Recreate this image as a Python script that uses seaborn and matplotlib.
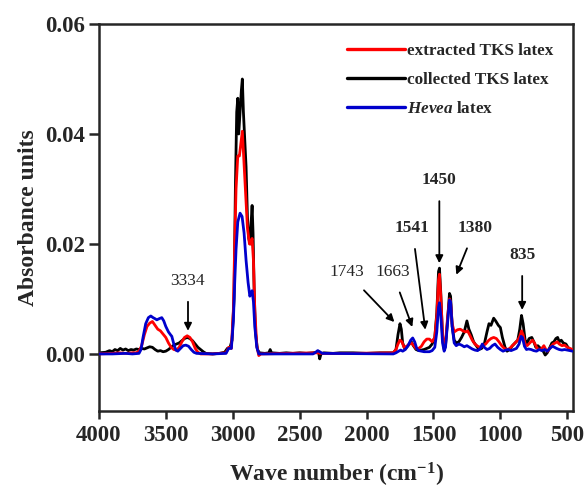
import matplotlib
matplotlib.use("Agg")
import matplotlib.pyplot as plt
import seaborn as sns
import pandas as pd

# ---- data ----
black_wn = [4000, 3950, 3920, 3900, 3880, 3860, 3840, 3820, 3800, 3780, 3760, 3740, 3720, 3700,
            3680, 3660, 3640, 3620, 3600, 3580, 3560, 3540, 3520, 3500, 3480, 3460, 3440, 3420,
            3400, 3380, 3360, 3340, 3320, 3300, 3280, 3260, 3240, 3220, 3200, 3150, 3100, 3060,
            3040, 3020, 3005, 2990, 2980, 2970, 2962, 2955, 2945, 2935, 2928, 2920, 2912, 2900,
            2890, 2880, 2870, 2862, 2855, 2848, 2840, 2830, 2815, 2800, 2760, 2730, 2720, 2710,
            2650, 2600, 2550, 2500, 2450, 2400, 2370, 2360, 2350, 2340, 2320, 2250, 2200, 2100,
            2000, 1900, 1800, 1780, 1765, 1750, 1740, 1730, 1715, 1700, 1680, 1665, 1650, 1630,
            1610, 1590, 1570, 1550, 1530, 1510, 1490, 1475, 1462, 1455, 1445, 1432, 1420, 1410,
            1395, 1380, 1372, 1360, 1345, 1330, 1310, 1290, 1270, 1250, 1235, 1218, 1200, 1180,
            1160, 1140, 1120, 1100, 1085, 1070, 1050, 1035, 1015, 1000, 985, 965, 950, 930, 910,
            890, 870, 855, 842, 830, 815, 800, 785, 765, 750, 735, 720, 700, 680, 665, 650, 630,
            615, 600, 585, 572, 560, 545, 530, 510, 495, 480, 460]
black_abs = [0.0002, 0.0003, 0.0006, 0.0004, 0.0008, 0.0006, 0.0010, 0.0007, 0.0009, 0.0006, 0.0008,
             0.0007, 0.0009, 0.0008, 0.0010, 0.0009, 0.0011, 0.0013, 0.0012, 0.0008, 0.0005, 0.0006,
             0.0004, 0.0005, 0.0008, 0.0012, 0.0016, 0.0018, 0.0020, 0.0024, 0.0028, 0.0030, 0.0028,
             0.0024, 0.0018, 0.0012, 0.0008, 0.0004, 0.0001, 0.0000, 0.0001, 0.0003, 0.0010, 0.0012,
             0.0025, 0.010, 0.030, 0.044, 0.0465, 0.040, 0.044, 0.048, 0.050, 0.044, 0.040, 0.034,
             0.025, 0.021, 0.020, 0.024, 0.027, 0.022, 0.012, 0.004, 0.0008, 0.0002, 0.0001, 0.0002,
             0.0008, 0.0002, 0.0001, 0.0002, 0.0001, 0.0002, 0.0001, 0.0002, 0.0003, 0.0005, -0.0009,
             0.0000, 0.0002, 0.0001, 0.0002, 0.0002, 0.0001, 0.0002, 0.0002, 0.0008, 0.0035, 0.0055,
             0.0045, 0.0020, 0.0010, 0.0012, 0.0018, 0.0022, 0.0015, 0.0008, 0.0006, 0.0007, 0.0008,
             0.0010, 0.0012, 0.0018, 0.0030, 0.0075, 0.0150, 0.0156, 0.0110, 0.0030, 0.0008, 0.0015,
             0.0060, 0.0110, 0.0105, 0.0050, 0.0025, 0.0020, 0.0022, 0.0030, 0.0040, 0.0060, 0.0045,
             0.0035, 0.0022, 0.0015, 0.0008, 0.0010, 0.0018, 0.0040, 0.0055, 0.0052, 0.0065, 0.0060,
             0.0052, 0.0048, 0.0030, 0.0012, 0.0005, 0.0008, 0.0015, 0.0020, 0.0025, 0.0045, 0.0070,
             0.0055, 0.0025, 0.0020, 0.0028, 0.0030, 0.0022, 0.0012, 0.0015, 0.0010, 0.0005, -0.0002,
             0.0002, 0.0012, 0.0020, 0.0022, 0.0028, 0.0030, 0.0022, 0.0025, 0.0020, 0.0018, 0.0012,
             0.0008, 0.0006]

red_wn = [4000, 3900, 3850, 3800, 3750, 3720, 3700, 3680, 3660, 3640, 3620, 3600, 3580, 3560, 3540,
          3520, 3500, 3480, 3460, 3440, 3420, 3400, 3380, 3360, 3340, 3320, 3300, 3280, 3260, 3240,
          3150, 3050, 3030, 3010, 2995, 2985, 2975, 2962, 2950, 2940, 2928, 2918, 2905, 2890, 2875,
          2865, 2855, 2845, 2835, 2820, 2805, 2790, 2600, 2360, 2350, 2100, 1800, 1780, 1765, 1750,
          1735, 1720, 1700, 1680, 1665, 1650, 1630, 1610, 1590, 1570, 1550, 1530, 1510, 1490, 1475,
          1462, 1455, 1445, 1432, 1420, 1410, 1395, 1380, 1372, 1360, 1345, 1320, 1300, 1280, 1260,
          1245, 1230, 1210, 1190, 1170, 1150, 1130, 1110, 1090, 1070, 1050, 1030, 1010, 990, 970,
          950, 930, 910, 890, 870, 855, 842, 830, 815, 800, 780, 760, 745, 725, 705, 690, 675, 660,
          645, 625, 605, 590, 575, 560, 540, 520, 500, 480, 460]
red_abs = [0.0000, 0.0001, 0.0002, 0.0001, 0.0002, 0.0002, 0.0005, 0.0015, 0.0035, 0.0050, 0.0056,
           0.0059, 0.0052, 0.0045, 0.0042, 0.0036, 0.0030, 0.0020, 0.0012, 0.0008, 0.0007, 0.0012,
           0.0022, 0.0030, 0.0033, 0.0030, 0.0022, 0.0010, 0.0003, 0.0000, 0.0000, 0.0002, 0.0012,
           0.0010, 0.008, 0.020, 0.030, 0.036, 0.036, 0.038, 0.0405, 0.036, 0.030, 0.023, 0.020,
           0.020, 0.021, 0.017, 0.008, 0.0015, -0.0003, 0.0000, 0.0001, 0.0002, 0.0001, 0.0001,
           0.0002, 0.0008, 0.0018, 0.0025, 0.0022, 0.0012, 0.0014, 0.0018, 0.0020, 0.0016, 0.0010,
           0.0010, 0.0014, 0.0022, 0.0027, 0.0027, 0.0022, 0.0030, 0.0070, 0.0135, 0.0145, 0.0105,
           0.0035, 0.0012, 0.0020, 0.0065, 0.0100, 0.0095, 0.0055, 0.0040, 0.0044, 0.0045, 0.0042,
           0.0040, 0.0042, 0.0035, 0.0025, 0.0018, 0.0014, 0.0012, 0.0015, 0.0018, 0.0024, 0.0028,
           0.0030, 0.0028, 0.0022, 0.0015, 0.0010, 0.0008, 0.0010, 0.0015, 0.0020, 0.0025, 0.0032,
           0.0042, 0.0035, 0.0018, 0.0015, 0.0020, 0.0025, 0.0020, 0.0010, 0.0008, 0.0010, 0.0015,
           0.0008, 0.0005, 0.0012, 0.0018, 0.0020, 0.0022, 0.0018, 0.0015, 0.0016, 0.0012, 0.0010,
           0.0008]

blue_wn = [4000, 3900, 3800, 3750, 3700, 3685, 3670, 3650, 3630, 3612, 3595, 3580, 3567, 3550, 3530,
           3515, 3500, 3480, 3465, 3455, 3440, 3425, 3410, 3390, 3370, 3350, 3330, 3310, 3290, 3270,
           3150, 3050, 3030, 3010, 2995, 2985, 2975, 2962, 2945, 2930, 2915, 2900, 2885, 2872, 2862,
           2855, 2845, 2835, 2820, 2805, 2700, 2400, 2380, 2365, 2350, 2330, 1800, 1780, 1760, 1745,
           1730, 1710, 1690, 1670, 1655, 1640, 1625, 1610, 1590, 1570, 1550, 1530, 1510, 1490, 1475,
           1462, 1455, 1445, 1432, 1420, 1410, 1395, 1380, 1372, 1360, 1345, 1330, 1310, 1290, 1270,
           1250, 1230, 1210, 1190, 1170, 1150, 1135, 1120, 1100, 1080, 1060, 1040, 1020, 1000, 980,
           960, 940, 920, 900, 880, 860, 845, 835, 820, 805, 790, 770, 750, 730, 710, 690, 670, 650,
           630, 610, 595, 580, 560, 540, 520, 500, 480, 460]
blue_abs = [0.0000, 0.0000, 0.0001, 0.0000, 0.0001, 0.0008, 0.0030, 0.0055, 0.0066, 0.0069, 0.0066,
            0.0064, 0.0062, 0.0064, 0.0066, 0.0060, 0.0050, 0.0040, 0.0035, 0.0032, 0.0018, 0.0007,
            0.0005, 0.0010, 0.0015, 0.0016, 0.0014, 0.0008, 0.0003, 0.0001, 0.0000, 0.0001, 0.0010,
            0.0010, 0.006, 0.013, 0.019, 0.024, 0.0256, 0.025, 0.022, 0.017, 0.013, 0.0105, 0.0110,
            0.0115, 0.0095, 0.005, 0.0012, 0.0000, 0.0000, 0.0000, 0.0003, 0.0006, 0.0004, 0.0001,
            0.0000, 0.0002, 0.0005, 0.0007, 0.0005, 0.0008, 0.0015, 0.0025, 0.0029, 0.0022, 0.0010,
            0.0006, 0.0005, 0.0004, 0.0004, 0.0004, 0.0006, 0.0012, 0.0040, 0.0085, 0.0093, 0.0070,
            0.0020, 0.0005, 0.0012, 0.0055, 0.0098, 0.0095, 0.0050, 0.0020, 0.0015, 0.0018, 0.0016,
            0.0013, 0.0015, 0.0012, 0.0009, 0.0007, 0.0006, 0.0010, 0.0018, 0.0012, 0.0008, 0.0010,
            0.0015, 0.0018, 0.0012, 0.0008, 0.0005, 0.0007, 0.0008, 0.0006, 0.0008, 0.0010, 0.0018,
            0.0032, 0.0030, 0.0014, 0.0008, 0.0009, 0.0008, 0.0006, 0.0005, 0.0008, 0.0006, 0.0008,
            0.0005, 0.0010, 0.0014, 0.0012, 0.0010, 0.0008, 0.0007, 0.0008, 0.0007, 0.0006, 0.0005]

series_labels = ["extracted TKS latex", "collected TKS latex", "$\\mathit{Hevea}$ latex"]
series_colors = ["#ff0000", "#000000", "#0000cc"]

# annotations: label, arrow tip (wn, abs), text position (wn, abs), bold?
ann_labels = ["3334", "1743", "1663", "1541", "1450", "1380", "835"]
ann_tip_wn = [3334, 1792, 1658, 1561, 1456, 1329, 837]
ann_tip_y = [0.0042, 0.0058, 0.0049, 0.0044, 0.0165, 0.0144, 0.0080]
ann_txt_wn = [3334, 2150, 1807, 1658, 1456, 1188, 837]
ann_txt_y = [0.0133, 0.0149, 0.0149, 0.0229, 0.0316, 0.0229, 0.0180]
ann_bold = [False, False, False, True, True, True, True]

# ---- plotting ----
sns.set_style("ticks")
plt.rcParams["font.family"] = ["Liberation Serif", "DejaVu Serif"]
plt.rcParams["mathtext.fontset"] = "custom"
plt.rcParams["mathtext.it"] = "Liberation Serif:italic:bold"
plt.rcParams["mathtext.rm"] = "Liberation Serif:bold"

fig = plt.figure(figsize=(5.85, 4.9), dpi=100)
ax = fig.add_axes([0.169, 0.161, 0.811, 0.790])

df_black = pd.DataFrame({"wn": black_wn, "A": black_abs})
df_red = pd.DataFrame({"wn": red_wn, "A": red_abs})
df_blue = pd.DataFrame({"wn": blue_wn, "A": blue_abs})

sns.lineplot(data=df_black, x="wn", y="A", ax=ax, color=series_colors[1], lw=2.0,
             estimator=None, label=series_labels[1], zorder=2)
sns.lineplot(data=df_red, x="wn", y="A", ax=ax, color=series_colors[0], lw=2.0,
             estimator=None, label=series_labels[0], zorder=3)
sns.lineplot(data=df_blue, x="wn", y="A", ax=ax, color=series_colors[2], lw=2.0,
             estimator=None, label=series_labels[2], zorder=4)

ax.set_xlim(4000, 455)
ax.set_ylim(-0.0104, 0.06)
ax.set_xticks([4000, 3500, 3000, 2500, 2000, 1500, 1000, 500])
ax.set_yticks([0.00, 0.02, 0.04, 0.06])
ax.set_yticklabels(["0.00", "0.02", "0.04", "0.06"])
ax.tick_params(axis="x", direction="out", length=6, width=1.8, labelsize=16.5, pad=4)
ax.tick_params(axis="y", direction="out", length=7, width=1.8, labelsize=16.5, pad=3)
for lab in ax.get_xticklabels() + ax.get_yticklabels():
    lab.set_fontweight("bold")
for sp in ax.spines.values():
    sp.set_linewidth(1.8)
    sp.set_visible(True)

ax.set_xlabel("Wave number (cm$^{-1}$)", fontsize=17, fontweight="bold", labelpad=11)
ax.set_ylabel("Absorbance units", fontsize=17, fontweight="bold", labelpad=4)

for lab, tx, ty, px, py, b in zip(ann_labels, ann_tip_wn, ann_tip_y, ann_txt_wn, ann_txt_y, ann_bold):
    ax.annotate(lab, xy=(tx, ty), xytext=(px, py), ha="center", va="center",
                fontsize=12.5, fontweight="bold" if b else "normal",
                arrowprops=dict(arrowstyle="-|>", color="black", lw=1.3,
                                mutation_scale=11, shrinkA=7, shrinkB=0))

handles, labels = ax.get_legend_handles_labels()
order = [1, 0, 2]
leg = ax.legend([handles[i] for i in order], [labels[i] for i in order],
                loc="upper right", bbox_to_anchor=(0.99, 0.99), frameon=False,
                handlelength=3.4, handletextpad=0.1, labelspacing=0.75,
                prop={"family": "Liberation Serif", "weight": "bold", "size": 12.3})
for h in leg.get_lines():
    h.set_linewidth(2.4)

fig.savefig("out.png", dpi=100, facecolor="white")
